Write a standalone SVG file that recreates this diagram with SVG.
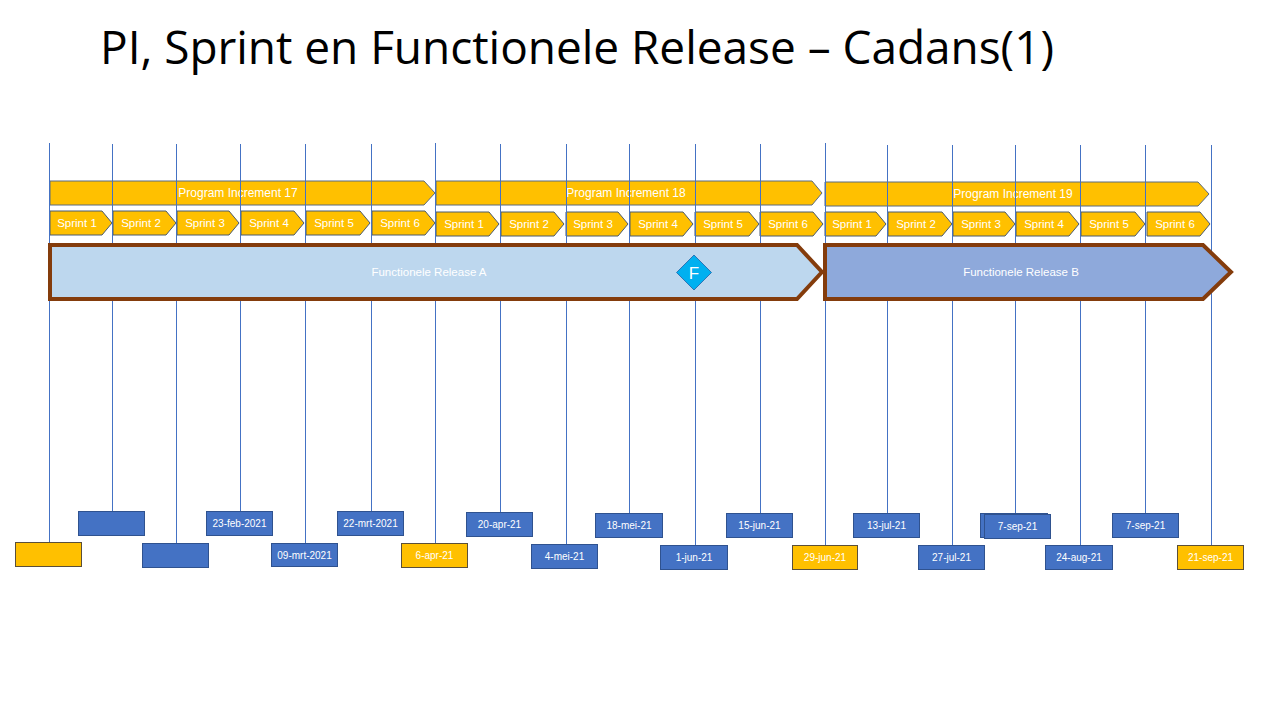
<svg xmlns="http://www.w3.org/2000/svg" width="1280" height="720" viewBox="0 0 1280 720">
<style>
.title{font-family:"Open Sans","Liberation Sans",sans-serif;font-size:46px;fill:#000}
.pi{fill:#FFC000;stroke:#5B6B7F;stroke-width:1}
.spr{fill:#FFC000;stroke:#4A5A6E;stroke-width:1}
.wt{font-family:"Liberation Sans",Arial,sans-serif;fill:#fff;text-anchor:middle;dominant-baseline:central}
.t12{font-size:12px}
.t11{font-size:11.5px}
.t10{font-size:10px}
.relA{fill:#BDD7EE;stroke:#843C0C;stroke-width:4;stroke-linejoin:miter}
.relB{fill:#8EA9DB;stroke:#843C0C;stroke-width:4;stroke-linejoin:miter}
.conn line{stroke:#4472C4;stroke-width:1}
.bb{fill:#4472C4;stroke:#2F528F;stroke-width:1}
.yb{fill:#FFC000;stroke:#5A4F3A;stroke-width:1}
</style>
<rect width="1280" height="720" fill="#fff"/>
<text class="title" x="100" y="64" textLength="954">PI, Sprint en Functionele Release – Cadans(1)</text>

<g id="pi17"><polygon class="pi" points="50,181 424,181 435,193 424,205 50,205"/><text class="wt t12" x="238" y="193">Program Increment  17</text></g>
<g id="pi18"><polygon class="pi" points="436,181 812,181 822,193 812,205 436,205"/><text class="wt t12" x="626" y="193">Program Increment  18</text></g>
<g id="pi19"><polygon class="pi" points="825,182 1198,182 1209,194 1198,206 825,206"/><text class="wt t12" x="1013" y="194">Program Increment  19</text></g>

<g id="sprints">
<g id="s17-1"><polygon class="spr" points="50,211 102,211 112,223 102,235 50,235"/><text class="wt t11" x="77" y="223">Sprint 1</text></g>
<g id="s17-2"><polygon class="spr" points="113,211 166,211 176,223 166,235 113,235"/><text class="wt t11" x="141" y="223">Sprint 2</text></g>
<g id="s17-3"><polygon class="spr" points="177,211 229,211 239,223 229,235 177,235"/><text class="wt t11" x="205" y="223">Sprint 3</text></g>
<g id="s17-4"><polygon class="spr" points="241,211 294,211 304,223 294,235 241,235"/><text class="wt t11" x="269" y="223">Sprint 4</text></g>
<g id="s17-5"><polygon class="spr" points="306,211 360,211 370,223 360,235 306,235"/><text class="wt t11" x="334" y="223">Sprint 5</text></g>
<g id="s17-6"><polygon class="spr" points="372,211 425,211 435,223 425,235 372,235"/><text class="wt t11" x="400" y="223">Sprint 6</text></g>
<g id="s18-1"><polygon class="spr" points="436,212 489,212 499,224 489,236 436,236"/><text class="wt t11" x="464" y="224">Sprint 1</text></g>
<g id="s18-2"><polygon class="spr" points="501,212 554,212 564,224 554,236 501,236"/><text class="wt t11" x="529" y="224">Sprint 2</text></g>
<g id="s18-3"><polygon class="spr" points="566,212 618,212 628,224 618,236 566,236"/><text class="wt t11" x="593" y="224">Sprint 3</text></g>
<g id="s18-4"><polygon class="spr" points="630,212 683,212 693,224 683,236 630,236"/><text class="wt t11" x="658" y="224">Sprint 4</text></g>
<g id="s18-5"><polygon class="spr" points="695,212 749,212 759,224 749,236 695,236"/><text class="wt t11" x="723" y="224">Sprint 5</text></g>
<g id="s18-6"><polygon class="spr" points="760,212 813,212 823,224 813,236 760,236"/><text class="wt t11" x="788" y="224">Sprint 6</text></g>
<g id="s19-1"><polygon class="spr" points="825,212 876,212 886,224 876,236 825,236"/><text class="wt t11" x="852" y="224">Sprint 1</text></g>
<g id="s19-2"><polygon class="spr" points="888,212 942,212 952,224 942,236 888,236"/><text class="wt t11" x="916" y="224">Sprint 2</text></g>
<g id="s19-3"><polygon class="spr" points="953,212 1005,212 1015,224 1005,236 953,236"/><text class="wt t11" x="981" y="224">Sprint 3</text></g>
<g id="s19-4"><polygon class="spr" points="1016,212 1069,212 1079,224 1069,236 1016,236"/><text class="wt t11" x="1044" y="224">Sprint 4</text></g>
<g id="s19-5"><polygon class="spr" points="1081,212 1135,212 1145,224 1135,236 1081,236"/><text class="wt t11" x="1109" y="224">Sprint 5</text></g>
<g id="s19-6"><polygon class="spr" points="1147,212 1200,212 1210,224 1200,236 1147,236"/><text class="wt t11" x="1175" y="224">Sprint 6</text></g>
</g>

<g id="connectors" class="conn">
<line x1="49.5" y1="143" x2="49.5" y2="542"/>
<line x1="112.5" y1="144" x2="112.5" y2="511"/>
<line x1="176.5" y1="144" x2="176.5" y2="543"/>
<line x1="240.5" y1="144" x2="240.5" y2="511"/>
<line x1="305.5" y1="144" x2="305.5" y2="543"/>
<line x1="371.5" y1="144" x2="371.5" y2="511"/>
<line x1="435.5" y1="143" x2="435.5" y2="543"/>
<line x1="500.5" y1="144" x2="500.5" y2="512"/>
<line x1="566.5" y1="144" x2="566.5" y2="544"/>
<line x1="629.5" y1="144" x2="629.5" y2="513"/>
<line x1="695.5" y1="144" x2="695.5" y2="545"/>
<line x1="760.5" y1="144" x2="760.5" y2="513"/>
<line x1="825.5" y1="143" x2="825.5" y2="545"/>
<line x1="887.5" y1="145" x2="887.5" y2="513"/>
<line x1="952.5" y1="145" x2="952.5" y2="545"/>
<line x1="1015.5" y1="145" x2="1015.5" y2="513"/>
<line x1="1080.5" y1="145" x2="1080.5" y2="545"/>
<line x1="1145.5" y1="145" x2="1145.5" y2="513"/>
<line x1="1211.5" y1="145" x2="1211.5" y2="545"/>
</g>

<g id="releaseA"><polygon class="relA" points="50,245 797,245 822,272 797,299 50,299"/><text class="wt t11" x="429" y="272">Functionele Release A</text></g>
<g id="releaseB"><polygon class="relB" points="825,245 1203,245 1231,272 1203,299 825,299"/><text class="wt t11" x="1021" y="272">Functionele Release B</text></g>
<g id="milestoneF"><polygon points="694,255 711.5,272.5 694,290 676.5,272.5" fill="#00B0F0" stroke="#2E75B6" stroke-width="1"/><text class="wt" x="694" y="273" font-size="17px">F</text></g>

<g id="d1"><rect class="yb" x="15.5" y="542.5" width="66" height="24"/></g>
<g id="d2"><rect class="bb" x="78.5" y="511.5" width="66" height="24"/></g>
<g id="d3"><rect class="bb" x="142.5" y="543.5" width="66" height="24"/></g>
<g id="d4"><rect class="bb" x="206.5" y="511.5" width="66" height="24"/><text class="wt t10" x="239.5" y="523.5">23-feb-2021</text></g>
<g id="d5"><rect class="bb" x="271.5" y="543.5" width="66" height="23"/><text class="wt t10" x="304.5" y="555">09-mrt-2021</text></g>
<g id="d6"><rect class="bb" x="337.5" y="511.5" width="66" height="24"/><text class="wt t10" x="370.5" y="523.5">22-mrt-2021</text></g>
<g id="d7"><rect class="yb" x="401.5" y="543.5" width="66" height="24"/><text class="wt t10" x="434.5" y="555.5">6-apr-21</text></g>
<g id="d8"><rect class="bb" x="466.5" y="512.5" width="66" height="24"/><text class="wt t10" x="499.5" y="524.5">20-apr-21</text></g>
<g id="d9"><rect class="bb" x="531.5" y="544.5" width="66" height="24"/><text class="wt t10" x="564.5" y="556.5">4-mei-21</text></g>
<g id="d10"><rect class="bb" x="595.5" y="513.5" width="67" height="24"/><text class="wt t10" x="629" y="525.5">18-mei-21</text></g>
<g id="d11"><rect class="bb" x="660.5" y="545.5" width="67" height="24"/><text class="wt t10" x="694" y="557.5">1-jun-21</text></g>
<g id="d12"><rect class="bb" x="726.5" y="513.5" width="66" height="24"/><text class="wt t10" x="759.5" y="525.5">15-jun-21</text></g>
<g id="d13"><rect class="yb" x="792.5" y="545.5" width="65" height="24"/><text class="wt t10" x="825" y="557.5">29-jun-21</text></g>
<g id="d14"><rect class="bb" x="853.5" y="513.5" width="66" height="24"/><text class="wt t10" x="886.5" y="525.5">13-jul-21</text></g>
<g id="d15"><rect class="bb" x="918.5" y="545.5" width="66" height="24"/><text class="wt t10" x="951.5" y="557.5">27-jul-21</text></g>
<g id="d16"><rect class="bb" x="980.5" y="513.5" width="67" height="24"/><rect class="bb" x="984.5" y="514.5" width="66" height="24"/><text class="wt t10" x="1017.5" y="526.5">7-sep-21</text></g>
<g id="d17"><rect class="bb" x="1045.5" y="545.5" width="67" height="24"/><text class="wt t10" x="1079" y="557.5">24-aug-21</text></g>
<g id="d18"><rect class="bb" x="1112.5" y="513.5" width="66" height="24"/><text class="wt t10" x="1145.5" y="525.5">7-sep-21</text></g>
<g id="d19"><rect class="yb" x="1177.5" y="545.5" width="66" height="24"/><text class="wt t10" x="1210.5" y="557.5">21-sep-21</text></g>
</svg>
